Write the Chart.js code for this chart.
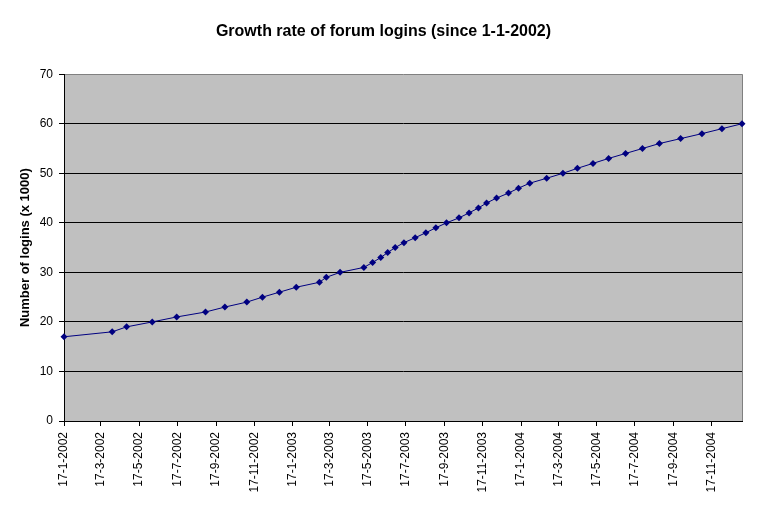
<!DOCTYPE html>
<html>
<head>
<meta charset="utf-8">
<title>Growth rate of forum logins</title>
<script src="https://cdn.jsdelivr.net/npm/chart.js@4"></script>
<style>
  body { margin: 0; background: #fff; }
  #wrap { width: 767px; height: 511px; }
</style>
</head>
<body>
<div id="wrap"><canvas id="chart" width="767" height="511"></canvas></div>
<script>
// dates on which each thousand logins was reached
const loginDates = [
	'2002-01-17', '2002-04-04', '2002-04-27', '2002-06-07', '2002-07-16', '2002-08-31',
	'2002-10-01', '2002-11-05', '2002-11-30', '2002-12-27', '2003-01-23', '2003-03-01',
	'2003-03-12', '2003-04-03', '2003-05-11', '2003-05-25', '2003-06-07', '2003-06-18',
	'2003-06-30', '2003-07-14', '2003-08-01', '2003-08-18', '2003-09-03', '2003-09-20',
	'2003-10-10', '2003-10-26', '2003-11-10', '2003-11-23', '2003-12-09', '2003-12-28',
	'2004-01-13', '2004-01-31', '2004-02-27', '2004-03-24', '2004-04-16', '2004-05-11',
	'2004-06-05', '2004-07-02', '2004-07-29', '2004-08-25', '2004-09-28', '2004-11-01',
	'2004-12-03', '2005-01-04',
];
const loginCounts = [
	17, 18, 19, 20, 21, 22, 23, 24, 25, 26, 27, 28, 29, 30, 31, 32, 33, 34, 35, 36, 37, 38,
	39, 40, 41, 42, 43, 44, 45, 46, 47, 48, 49, 50, 51, 52, 53, 54, 55, 56, 57, 58, 59, 60,
];
const tickLabels = [
	'17-1-2002', '17-3-2002', '17-5-2002', '17-7-2002', '17-9-2002', '17-11-2002',
	'17-1-2003', '17-3-2003', '17-5-2003', '17-7-2003', '17-9-2003', '17-11-2003',
	'17-1-2004', '17-3-2004', '17-5-2004', '17-7-2004', '17-9-2004', '17-11-2004',
];

const startDay = Date.UTC(2002, 0, 17);
const toDay = (y, m, d) => Math.round((Date.UTC(y, m - 1, d) - startDay) / 86400000);
const isoDay = (s) => {
	const [y, m, d] = s.split('-').map(Number);
	return toDay(y, m, d);
};
const labelDay = (s) => {
	const [d, m, y] = s.split('-').map(Number);
	return toDay(y, m, d);
};

const points = loginDates.map((d, i) => ({ x: isoDay(d), y: loginCounts[i] }));
const tickDays = tickLabels.map(labelDay);

const plotBackground = {
	id: 'plotBackground',
	beforeDraw(chart) {
		const { ctx, chartArea } = chart;
		ctx.save();
		ctx.fillStyle = '#c0c0c0';
		ctx.fillRect(chartArea.left, chartArea.top, chartArea.right - chartArea.left, chartArea.bottom - chartArea.top);
		ctx.restore();
	},
	beforeDatasetsDraw(chart) {
		const { ctx, chartArea } = chart;
		ctx.save();
		ctx.strokeStyle = '#808080';
		ctx.lineWidth = 1;
		ctx.beginPath();
		ctx.moveTo(chartArea.right + 0.5, chartArea.top);
		ctx.lineTo(chartArea.right + 0.5, chartArea.bottom);
		ctx.stroke();
		ctx.restore();
	},
};

const ctx = document.getElementById('chart').getContext('2d');
new Chart(ctx, {
	type: 'line',
	data: {
		datasets: [
			{
				data: points,
				borderColor: '#000080',
				backgroundColor: '#000080',
				borderWidth: 1,
				pointStyle: 'rectRot',
				pointRadius: 3.5,
				pointBorderWidth: 0,
				tension: 0,
				clip: false,
			},
		],
	},
	options: {
		responsive: false,
		animation: false,
		layout: { padding: 0 },
		plugins: {
			legend: { display: false },
			tooltip: { enabled: false },
			title: {
				display: true,
				text: 'Growth rate of forum logins (since 1-1-2002)',
				color: '#000',
				font: { family: 'Arial, "Liberation Sans"', size: 16, weight: 'bold' },
				padding: { top: 22, bottom: 33 },
			},
		},
		scales: {
			x: {
				type: 'linear',
				min: 0,
				max: isoDay('2005-01-04'),
				afterBuildTicks: (scale) => {
					scale.ticks = tickDays.map((v) => ({ value: v }));
				},
				afterFit: (scale) => {
					scale.height = 90;
				},
				ticks: {
					autoSkip: false,
					minRotation: 90,
					maxRotation: 90,
					padding: 6,
					color: '#000',
					font: { family: 'Arial, "Liberation Sans"', size: 12 },
					callback: (value) => {
						const i = tickDays.indexOf(value);
						return i >= 0 ? tickLabels[i] : '';
					},
				},
				grid: {
					drawOnChartArea: false,
					drawTicks: true,
					tickLength: 5,
					color: '#000',
				},
				border: { color: '#000', width: 1 },
			},
			y: {
				min: 0,
				max: 70,
				afterFit: (scale) => {
					scale.width = 64;
				},
				ticks: {
					stepSize: 10,
					padding: 6,
					color: '#000',
					font: { family: 'Arial, "Liberation Sans"', size: 12 },
				},
				grid: {
					color: (c) => (c.tick && c.tick.value === 70 ? '#808080' : '#000'),
					tickColor: '#000',
					tickLength: 5,
				},
				border: { color: '#000', width: 1 },
				title: {
					display: true,
					text: 'Number of logins (x 1000)',
					color: '#000',
					font: { family: 'Arial, "Liberation Sans"', size: 13, weight: 'bold' },
					padding: { top: 18, bottom: 0 },
				},
			},
			// empty right-hand margin so the title centres on the whole picture
			yRight: {
				position: 'right',
				min: 0,
				max: 70,
				afterFit: (scale) => {
					scale.width = 25;
				},
				ticks: { display: false },
				grid: { display: false },
				border: { display: false },
			},
		},
	},
	plugins: [plotBackground],
});
</script>
</body>
</html>
